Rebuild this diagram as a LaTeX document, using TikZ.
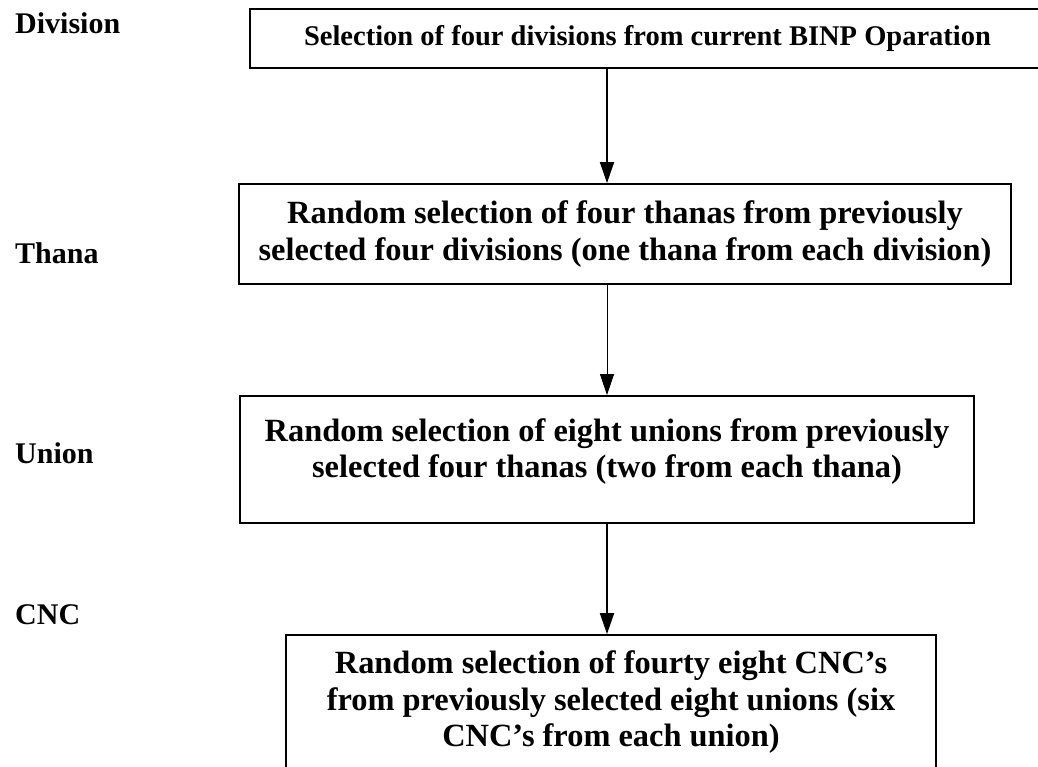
\documentclass[tikz,border=0pt]{standalone}
\usepackage{fontspec}
\setmainfont{Liberation Serif}
\usetikzlibrary{arrows.meta}

\begin{document}
\begin{tikzpicture}[x=1pt, y=-1pt,
    stage/.style={rectangle, draw=black, line width=1.8pt, align=center,
        inner sep=0pt, font=\fontsize{32.4}{36.5}\selectfont\bfseries},
    level/.style={anchor=west, inner sep=0pt,
        font=\fontsize{30}{34}\selectfont\bfseries},
    link/.style={line width=1.8pt, -{Triangle[width=14pt,length=21pt]}}
]
    \useasboundingbox (0,0) rectangle (1038,767);
    \coordinate (spine) at (607,0);
    % levels on the left
    \node[level] (ldiv) at (15,23) {Division};
    \node[level] (lthana) at (15,253) {Thana};
    \node[level] (lunion) at (15,453) {Union};
    \node[level] (lcnc) at (15,615) {CNC};
    % selection stages
    \node[stage, minimum width=795pt, minimum height=59pt,
        font=\fontsize{28.5}{34}\selectfont\bfseries] (sdiv) at (647.5,38.5)
        {Selection of four divisions from current BINP Oparation};
    \node[stage, minimum width=772pt, minimum height=100pt] (sthana) at (625,234)
        {Random selection of four thanas from previously\\
         selected four divisions (one thana from each division)};
    \node[stage, minimum width=734pt, minimum height=127pt] (sunion) at (607,459.5)
        {Random selection of eight unions from previously\\
         selected four thanas (two from each thana)\\[-14pt]\mbox{}};
    \node[stage, minimum width=650pt, minimum height=135pt] (scnc) at (611,702.5)
        {Random selection of fourty eight CNC's\\
         from previously selected eight unions (six\\
         CNC's from each union)};
    \draw[link] (sdiv.south -| spine) -- (sthana.north -| spine);
    \draw[link, line width=1pt] (sthana.south -| spine) -- (sunion.north -| spine);
    \draw[link] (sunion.south -| spine) -- (scnc.north -| spine);
\end{tikzpicture}
\end{document}
